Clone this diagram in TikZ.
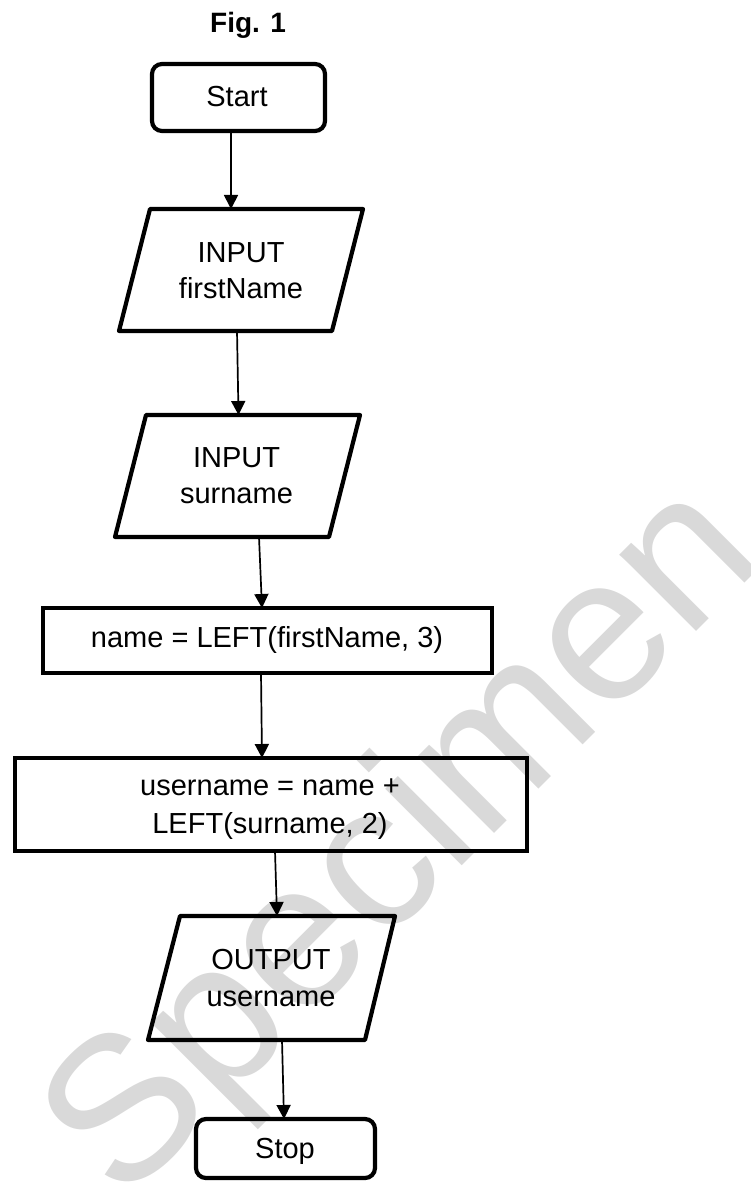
\documentclass[tikz,border=0pt]{standalone}
\usepackage{fontspec}
\setmainfont{Liberation Sans}
\usetikzlibrary{arrows.meta,calc}
\begin{document}
\begin{tikzpicture}[x=1pt,y=-1pt,
  box/.style={draw, line width=4.2pt, inner sep=0pt, outer sep=0pt},
  term/.style={box, rounded corners=10pt},
  bound/.style={inner sep=0pt, outer sep=0pt},
  para/.style={line width=4.2pt, line join=round},
  lbl/.style={anchor=base, inner sep=0pt, font=\fontsize{29}{37}\selectfont},
  arr/.style={line width=1.7pt, -{Triangle[length=14pt,width=14pt]}},
  wm/.style={text=black!15, inner sep=0pt, font=\fontsize{205}{240}\selectfont}
]
\useasboundingbox (0,0) rectangle (751,1182);
\begin{scope}
\clip (0,0) rectangle (751,1182);
\node[wm, rotate=45, anchor=base west] (wmark) at (122,1206) {Specimen};
\end{scope}

% title
\node[lbl, font=\bfseries\fontsize{28}{37}\selectfont] (fig) at (248,33) {Fig. 1};

% Start
\node[term, minimum width=173pt, minimum height=67pt] (start) at (238.5,97.5) {};
\node[lbl] (startt) at (237,107) {Start};

% INPUT firstName
\node[bound, minimum width=244pt, minimum height=122pt] (p1) at (241,270) {};
\draw[para] ([xshift=31pt]p1.north west) -- (p1.north east) -- ([xshift=-31pt]p1.south east) -- (p1.south west) -- cycle;
\node[lbl] (p1a) at (241,262) {INPUT};
\node[lbl] (p1b) at (241,298) {firstName};

% INPUT surname
\node[bound, minimum width=245pt, minimum height=122pt] (p2) at (237.5,476) {};
\draw[para] ([xshift=31pt]p2.north west) -- (p2.north east) -- ([xshift=-31pt]p2.south east) -- (p2.south west) -- cycle;
\node[lbl] (p2a) at (236.5,467) {INPUT};
\node[lbl] (p2b) at (236.5,503) {surname};

% name = LEFT(firstName, 3)
\node[box, minimum width=449pt, minimum height=65pt] (r1) at (267.5,640.5) {};
\node[lbl] (r1a) at (267,647) {name = LEFT(firstName, 3)};

% username = name + LEFT(surname, 2)
\node[box, minimum width=512pt, minimum height=93pt] (r2) at (271,804.5) {};
\node[lbl] (r2a) at (270,795) {username = name +};
\node[lbl] (r2b) at (270,833) {LEFT(surname, 2)};

% OUTPUT username
\node[bound, minimum width=247pt, minimum height=124pt] (p3) at (271.5,978) {};
\draw[para] ([xshift=32pt]p3.north west) -- (p3.north east) -- ([xshift=-30pt]p3.south east) -- (p3.south west) -- cycle;
\node[lbl] (p3a) at (271,969) {OUTPUT};
\node[lbl] (p3b) at (271,1006) {username};

% Stop
\node[term, minimum width=179pt, minimum height=59pt] (stop) at (285.5,1148.5) {};
\node[lbl] (stopt) at (285,1158) {Stop};

% connectors
\draw[arr] ([xshift=-7.5pt]start.south) -- ([xshift=-10pt]p1.north);
\draw[arr] ([xshift=-4pt]p1.south) -- ([xshift=1pt]p2.north);
\draw[arr] ([xshift=21.5pt]p2.south) -- ([xshift=-5.5pt]r1.north);
\draw[arr] ([xshift=-6.5pt]r1.south) -- ([xshift=-9pt]r2.north);
\draw[arr] ([xshift=4pt]r2.south) -- ([xshift=5.5pt]p3.north);
\draw[arr] ([xshift=10.5pt]p3.south) -- ([xshift=-1.5pt]stop.north);
\end{tikzpicture}
\end{document}
